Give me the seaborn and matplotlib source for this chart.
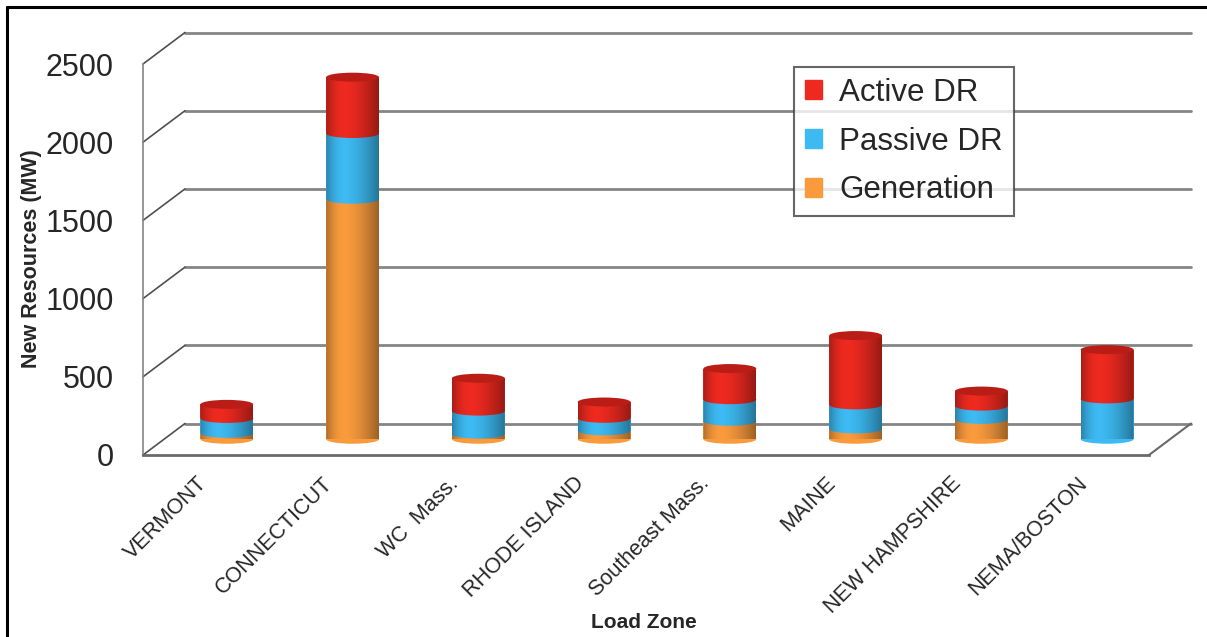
import numpy as np
import pandas as pd
import matplotlib.pyplot as plt
import seaborn as sns
from matplotlib.patches import Ellipse, Patch, Polygon
from matplotlib.lines import Line2D
from matplotlib.transforms import ScaledTranslation

# Data (MW)
zones = ["VERMONT", "CONNECTICUT", "WC  Mass.", "RHODE ISLAND",
         "Southeast Mass.", "MAINE", "NEW HAMPSHIRE", "NEMA/BOSTON"]
generation = [38, 1535, 33, 54, 115, 66, 127, 0]
passive_dr = [95, 420, 147, 80, 138, 154, 85, 258]
active_dr = [90, 360, 210, 104, 199, 443, 96, 315]
y_ticks = [0, 500, 1000, 1500, 2000, 2500]

RED = "#EE2A20"
RED_TOP = "#B91D16"
BLUE = "#3DBAF2"
ORANGE = "#F99B3D"
GRID = "#858585"

df = pd.DataFrame({
    "zone": zones,
    "Generation": generation,
    "Passive DR": passive_dr,
    "Active DR": active_dr,
})
df["gen_top"] = df["Generation"]
df["passive_top"] = df["gen_top"] + df["Passive DR"]
df["total"] = df["passive_top"] + df["Active DR"]

sns.set_style("white")
plt.rcParams["font.family"] = ["Liberation Sans", "DejaVu Sans"]

W, H = 1207, 637
fig = plt.figure(figsize=(W / 100, H / 100), dpi=100)

# front plane of the 3D box (pixels), depth offset to the back wall
fx0, fx1, fy0, fy1 = 143, 1149, 455, 64
dx, dy = 42, 31.5


def plane(shift):
    return [(fx0 + dx * shift) / W, (H - fy0 + dy * shift) / H,
            (fx1 - fx0) / W, (fy0 - fy1) / H]


ax_b = fig.add_axes(plane(1.0))
ax = fig.add_axes(plane(0.5))
ax_f = fig.add_axes(plane(0.0))

for a in (ax_b, ax, ax_f):
    a.set_xlim(-0.5, len(zones) - 0.5)
    a.set_ylim(0, 2500)
    a.patch.set_visible(False)

# back wall gridlines
ax_b.set_yticks(y_ticks)
ax_b.set_xticks([])
ax_b.tick_params(left=False, labelleft=False)
ax_b.grid(axis="y", color=GRID, lw=2)
for line in ax_b.get_ygridlines():
    line.set_clip_on(False)
sns.despine(ax=ax_b, left=True, bottom=True)

# stacked cylinders (mid depth)
bar_w = 0.42
sns.barplot(data=df, x="zone", y="total", order=zones, color=RED,
            width=bar_w, saturation=1, edgecolor="none", ax=ax)
sns.barplot(data=df, x="zone", y="passive_top", order=zones, color=BLUE,
            width=bar_w, saturation=1, edgecolor="none", ax=ax)
sns.barplot(data=df, x="zone", y="gen_top", order=zones, color=ORANGE,
            width=bar_w, saturation=1, edgecolor="none", ax=ax)
for p in ax.patches:
    p.set_clip_on(False)

cap_h = 9 / (fy0 - fy1) * 2500

# cylinder shading: dark at both edges, light left of centre
gx = np.linspace(0, 1, 200)
shade = np.where(gx < 0.35, 0.30 * (1 - gx / 0.35) ** 2,
                 0.38 * ((gx - 0.35) / 0.65) ** 1.6)
grad = np.zeros((1, gx.size, 4))
grad[0, :, 3] = shade

theta = np.linspace(np.pi, 2 * np.pi, 40)
for i, row in df.iterrows():
    base_col = ORANGE if row["Generation"] > 0 else BLUE
    ax.add_patch(Ellipse((i, 0), bar_w, cap_h, color=base_col, lw=0,
                         zorder=5, clip_on=False))
    if row["Generation"] > 0:
        ax.add_patch(Ellipse((i, row["gen_top"]), bar_w, cap_h, color=BLUE,
                             lw=0, zorder=6, clip_on=False))
    ax.add_patch(Ellipse((i, row["passive_top"]), bar_w, cap_h, color=RED,
                         lw=0, zorder=7, clip_on=False))

    # outline of the cylinder body (front half of the bottom ellipse + sides)
    body = [(i - bar_w / 2, row["total"])]
    body += list(zip(i + bar_w / 2 * np.cos(theta), cap_h / 2 * np.sin(theta)))
    body += [(i + bar_w / 2, row["total"])]
    clip = Polygon(body, closed=True, transform=ax.transData)
    im = ax.imshow(grad, extent=[i - bar_w / 2, i + bar_w / 2, -cap_h / 2, row["total"]],
                   aspect="auto", zorder=7.5, interpolation="bilinear")
    im.set_clip_path(clip)
    im.set_clip_box(None)

    ax.add_patch(Ellipse((i, row["total"]), bar_w, cap_h, color=RED_TOP,
                         lw=0, zorder=8, clip_on=False))

ax.set_xlim(-0.5, len(zones) - 0.5)
ax.set_ylim(0, 2500)
ax.axis("off")

# front axes: ticks, labels, side wall and floor edges
ax_f.set_xticks(range(len(zones)))
ax_f.set_xticklabels(zones, rotation=45, ha="right", fontsize=15.5)
ax_f.set_xticks(np.arange(-0.5, len(zones), 1), minor=True)
ax_f.tick_params(axis="x", which="major", length=0, pad=13)
ax_f.tick_params(axis="x", which="minor", length=6, color=GRID, width=1.2)
shift = ScaledTranslation(5 / 100, 0, fig.dpi_scale_trans)
for lab in ax_f.get_xticklabels():
    lab.set_transform(lab.get_transform() + shift)
ax_f.set_yticks(y_ticks)
ax_f.tick_params(axis="y", labelsize=22, length=7, width=1.2, color=GRID, pad=14)
sns.despine(ax=ax_f)
ax_f.spines["left"].set_color(GRID)
ax_f.spines["left"].set_linewidth(1.2)
ax_f.spines["bottom"].set_color("#6a6a6a")
ax_f.spines["bottom"].set_linewidth(2)

ddx = dx / (fx1 - fx0) * len(zones)
ddy = dy / (fy0 - fy1) * 2500
for v in y_ticks:
    ax_f.plot([-0.5, -0.5 + ddx], [v, v + ddy], color="#505050", lw=1.2, clip_on=False)
ax_f.plot([len(zones) - 0.5, len(zones) - 0.5 + ddx], [0, ddy],
          color="#6a6a6a", lw=1.5, clip_on=False)

fig.text(32 / W, 1 - 259 / H, "New Resources (MW)", rotation=90,
         ha="center", va="center", fontsize=15.5, fontweight="bold")
fig.text(644 / W, 1 - 622 / H, "Load Zone", ha="center", va="center",
         fontsize=15, fontweight="bold")

handles = [Patch(color=RED, label="Active DR"),
           Patch(color=BLUE, label="Passive DR"),
           Patch(color=ORANGE, label="Generation")]
leg = fig.legend(handles=handles, loc="upper left",
                 bbox_to_anchor=(794 / W, 1 - 67 / H), fontsize=22.5,
                 frameon=True, fancybox=False, edgecolor="#404040",
                 handlelength=0.55, handleheight=0.55, handletextpad=0.55,
                 labelspacing=0.6, borderpad=0.35, borderaxespad=0)
leg.get_frame().set_linewidth(1.5)

# outer frame (left and top edges)
fig.add_artist(Line2D([7 / W, 7 / W], [0, 1 - 7 / H], color="black", lw=2.2,
                      transform=fig.transFigure))
fig.add_artist(Line2D([7 / W, 1], [1 - 7 / H, 1 - 7 / H], color="black", lw=2.2,
                      transform=fig.transFigure))

fig.savefig("out.png", dpi=100)
